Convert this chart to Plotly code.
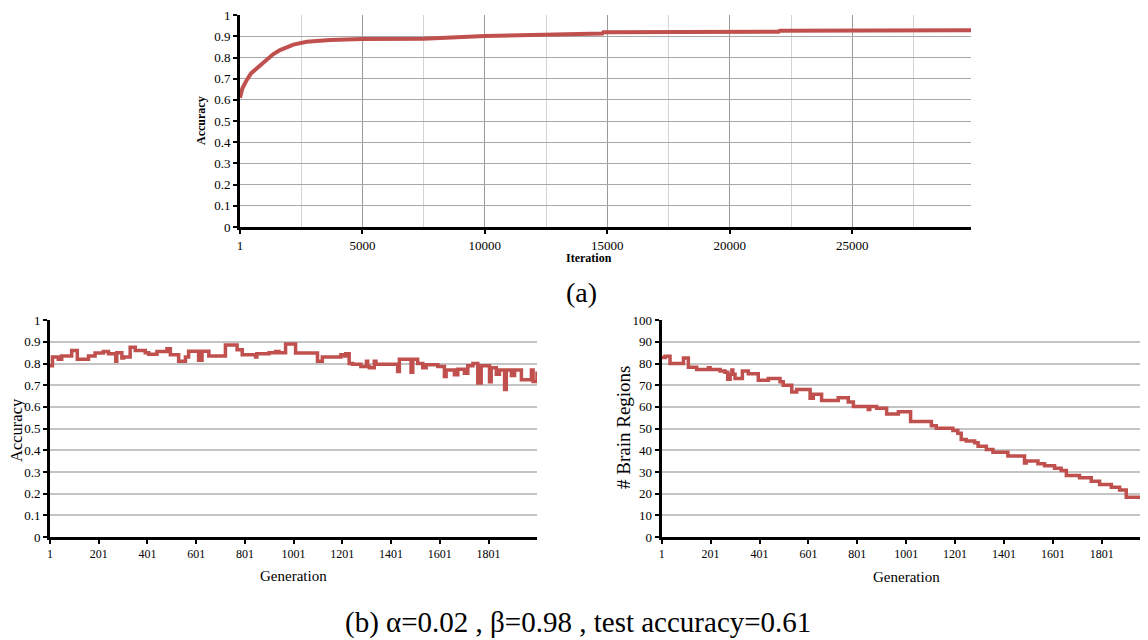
import plotly.graph_objects as go

# ---------------- data ----------------
# (a) accuracy vs iteration
iter_x = [1, 100, 273, 450, 681, 900, 1090, 1350, 1635, 1900, 2180, 2726, 3680, 5000,
          7500, 10000, 12000, 14800, 14840, 19080, 19120, 22000, 22040, 27260, 27300, 29850]
iter_acc = [0.61, 0.655, 0.693, 0.725, 0.748, 0.772, 0.79, 0.815, 0.835, 0.85, 0.861, 0.874,
            0.883, 0.887, 0.889, 0.902, 0.908, 0.913, 0.919, 0.919, 0.922, 0.922, 0.926,
            0.926, 0.929, 0.929]

# (b) accuracy vs generation (step values)
gen_acc_x = [1, 11, 35, 49, 90, 113, 159, 186, 220, 241, 271, 275, 296, 303, 330, 351, 392,
             406, 440, 481, 495, 529, 557, 570, 611, 625, 653, 721, 769, 790, 845, 850, 900,
             927, 941, 968, 1009, 1099, 1119, 1195, 1210, 1215, 1229, 1243, 1277, 1300, 1305,
             1312, 1332, 1339, 1428, 1435, 1483, 1490, 1510, 1531, 1545, 1593, 1620, 1627,
             1661, 1675, 1702, 1716, 1737, 1757, 1771, 1785, 1805, 1812, 1833, 1846, 1867,
             1874, 1895, 1908, 1936, 1977, 1984, 2000]
gen_acc_y = [0.79, 0.83, 0.82, 0.835, 0.86, 0.82, 0.835, 0.848, 0.856, 0.845, 0.81, 0.85,
             0.825, 0.83, 0.875, 0.86, 0.85, 0.843, 0.855, 0.868, 0.84, 0.81, 0.83, 0.857,
             0.815, 0.857, 0.835, 0.885, 0.863, 0.84, 0.83, 0.845, 0.85, 0.855, 0.85, 0.89,
             0.848, 0.81, 0.83, 0.84, 0.835, 0.845, 0.80, 0.797, 0.786, 0.81, 0.786, 0.78,
             0.81, 0.797, 0.763, 0.82, 0.76, 0.82, 0.80, 0.78, 0.794, 0.786, 0.74, 0.77,
             0.748, 0.774, 0.755, 0.79, 0.80, 0.71, 0.79, 0.79, 0.716, 0.78, 0.75, 0.77,
             0.68, 0.77, 0.745, 0.77, 0.725, 0.77, 0.717, 0.763]

# (b) number of brain regions vs generation (step values)
gen_reg_x = [1, 15, 35, 90, 110, 144, 192, 199, 240, 260, 271, 281, 288, 292, 301, 331, 355,
             396, 437, 485, 498, 533, 553, 608, 621, 655, 723, 764, 785, 846, 852, 880, 921,
             969, 1019, 1104, 1124, 1192, 1212, 1226, 1247, 1281, 1295, 1329, 1356, 1417,
             1485, 1492, 1540, 1567, 1608, 1635, 1656, 1710, 1758, 1792, 1840, 1874, 1901,
             1983, 2000]
gen_reg_y = [82.8, 83.4, 80, 82.5, 78.3, 77.3, 78, 77.3, 76.5, 76, 72.8, 75, 77, 75, 73.1,
             76.5, 75.3, 72.3, 73.1, 71.6, 70, 66.9, 68, 64, 65.8, 63, 64.2, 62.2, 60.2, 58.8,
             60.2, 59.4, 56.7, 57.8, 53.3, 51.3, 50.2, 49.1, 47.9, 45, 44.3, 43.5, 41.9, 40.4,
             39.1, 37.3, 34.1, 35.1, 33.8, 32.9, 31.7, 30.7, 28.4, 27.3, 25.7, 24.2, 22.9,
             21.7, 18.3, 16.7, 16.5]

iter_ticks = [1, 5000, 10000, 15000, 20000, 25000]
iter_minor = [2500, 7500, 12500, 17500, 22500, 27500]
gen_ticks = [1, 201, 401, 601, 801, 1001, 1201, 1401, 1601, 1801]
acc_ticks = [0, 0.1, 0.2, 0.3, 0.4, 0.5, 0.6, 0.7, 0.8, 0.9, 1]
acc_labels = ["0", "0.1", "0.2", "0.3", "0.4", "0.5", "0.6", "0.7", "0.8", "0.9", "1"]
reg_ticks = [0, 10, 20, 30, 40, 50, 60, 70, 80, 90, 100]

# ---------------- figure ----------------
RED = "#C0504D"
FONT = "Liberation Serif, Times New Roman, serif"
W, H = 1148, 640
OFF = 8  # page body margin offset

fig = go.Figure()
fig.add_trace(go.Scatter(x=iter_x, y=iter_acc, mode="lines", line=dict(color=RED, width=4),
                         xaxis="x", yaxis="y", showlegend=False))
fig.add_trace(go.Scatter(x=gen_acc_x, y=gen_acc_y, mode="lines", line=dict(color=RED, width=3.5, shape="hv"),
                         xaxis="x2", yaxis="y2", showlegend=False))
fig.add_trace(go.Scatter(x=gen_reg_x, y=gen_reg_y, mode="lines", line=dict(color=RED, width=3.5, shape="hv"),
                         xaxis="x3", yaxis="y3", showlegend=False))

def px_x(p):
    return (p - OFF) / W

def px_y(p):
    return 1 - (p - OFF) / H

common_axis = dict(showline=True, linecolor="black", linewidth=3, zeroline=False,
                   ticks="outside", tickcolor="black", tickwidth=2, ticklen=4,
                   mirror=False, fixedrange=True, automargin=False,
                   ticklabeloverflow="allow")

fig.update_layout(
    template="none",
    width=W, height=H, autosize=False,
    margin=dict(l=0, r=0, t=0, b=0, pad=0, autoexpand=False),
    paper_bgcolor="white", plot_bgcolor="white",
    font=dict(family=FONT, color="black"),
    xaxis=dict(common_axis, domain=[px_x(240), px_x(971)], range=[1, 29850],
               tickvals=iter_ticks, ticktext=[str(v) for v in iter_ticks],
               showgrid=True, gridcolor="#9a9a9a", gridwidth=1,
               minor=dict(tickvals=iter_minor, showgrid=True, gridcolor="#d4d4d4", gridwidth=1, ticks=""),
               tickfont=dict(family=FONT, size=13), anchor="y"),
    yaxis=dict(common_axis, domain=[px_y(227), px_y(14.5)], range=[0, 1.003],
               tickvals=acc_ticks, ticktext=acc_labels,
               showgrid=True, gridcolor="#a8a8a8", gridwidth=1,
               tickfont=dict(family=FONT, size=13), anchor="x"),
    xaxis2=dict(common_axis, domain=[px_x(50), px_x(537)], range=[1, 2000],
                tickvals=gen_ticks, ticktext=[str(v) for v in gen_ticks], showgrid=False,
                tickfont=dict(family=FONT, size=12), anchor="y2"),
    yaxis2=dict(common_axis, domain=[px_y(537), px_y(319.5)], range=[0, 1.003],
                tickvals=acc_ticks, ticktext=acc_labels,
                showgrid=True, gridcolor="#c4c4c4", gridwidth=1.5,
                tickfont=dict(family=FONT, size=13), anchor="x2"),
    xaxis3=dict(common_axis, domain=[px_x(661.7), px_x(1148)], range=[1, 1990],
                tickvals=gen_ticks, ticktext=[str(v) for v in gen_ticks], showgrid=False,
                tickfont=dict(family=FONT, size=12), anchor="y3"),
    yaxis3=dict(common_axis, domain=[px_y(537), px_y(319.5)], range=[0, 100.3],
                tickvals=reg_ticks, ticktext=[str(v) for v in reg_ticks],
                showgrid=True, gridcolor="#c4c4c4", gridwidth=1.5,
                tickfont=dict(family=FONT, size=13), anchor="x3"),
)

def label(text, x, y, size, bold=False, angle=0):
    fig.add_annotation(text=("<b>%s</b>" % text) if bold else text,
                       x=px_x(x), y=px_y(y), xref="paper", yref="paper",
                       showarrow=False, textangle=angle, xanchor="center", yanchor="middle",
                       font=dict(family=FONT, size=size, color="black"))

label("Accuracy", 201, 121, 12, bold=True, angle=-90)
label("Iteration", 589, 258, 12, bold=True)
label("(a)", 581, 292, 28)
label("Accuracy", 16, 430, 16.5, angle=-90)
label("Generation", 293, 576, 15)
label("# Brain Regions", 623, 427, 19, angle=-90)
label("Generation", 906, 577, 15)
label("(b) α=0.02 , β=0.98 , test accuracy=0.61", 578, 622, 29)

fig.write_html("out.html")
